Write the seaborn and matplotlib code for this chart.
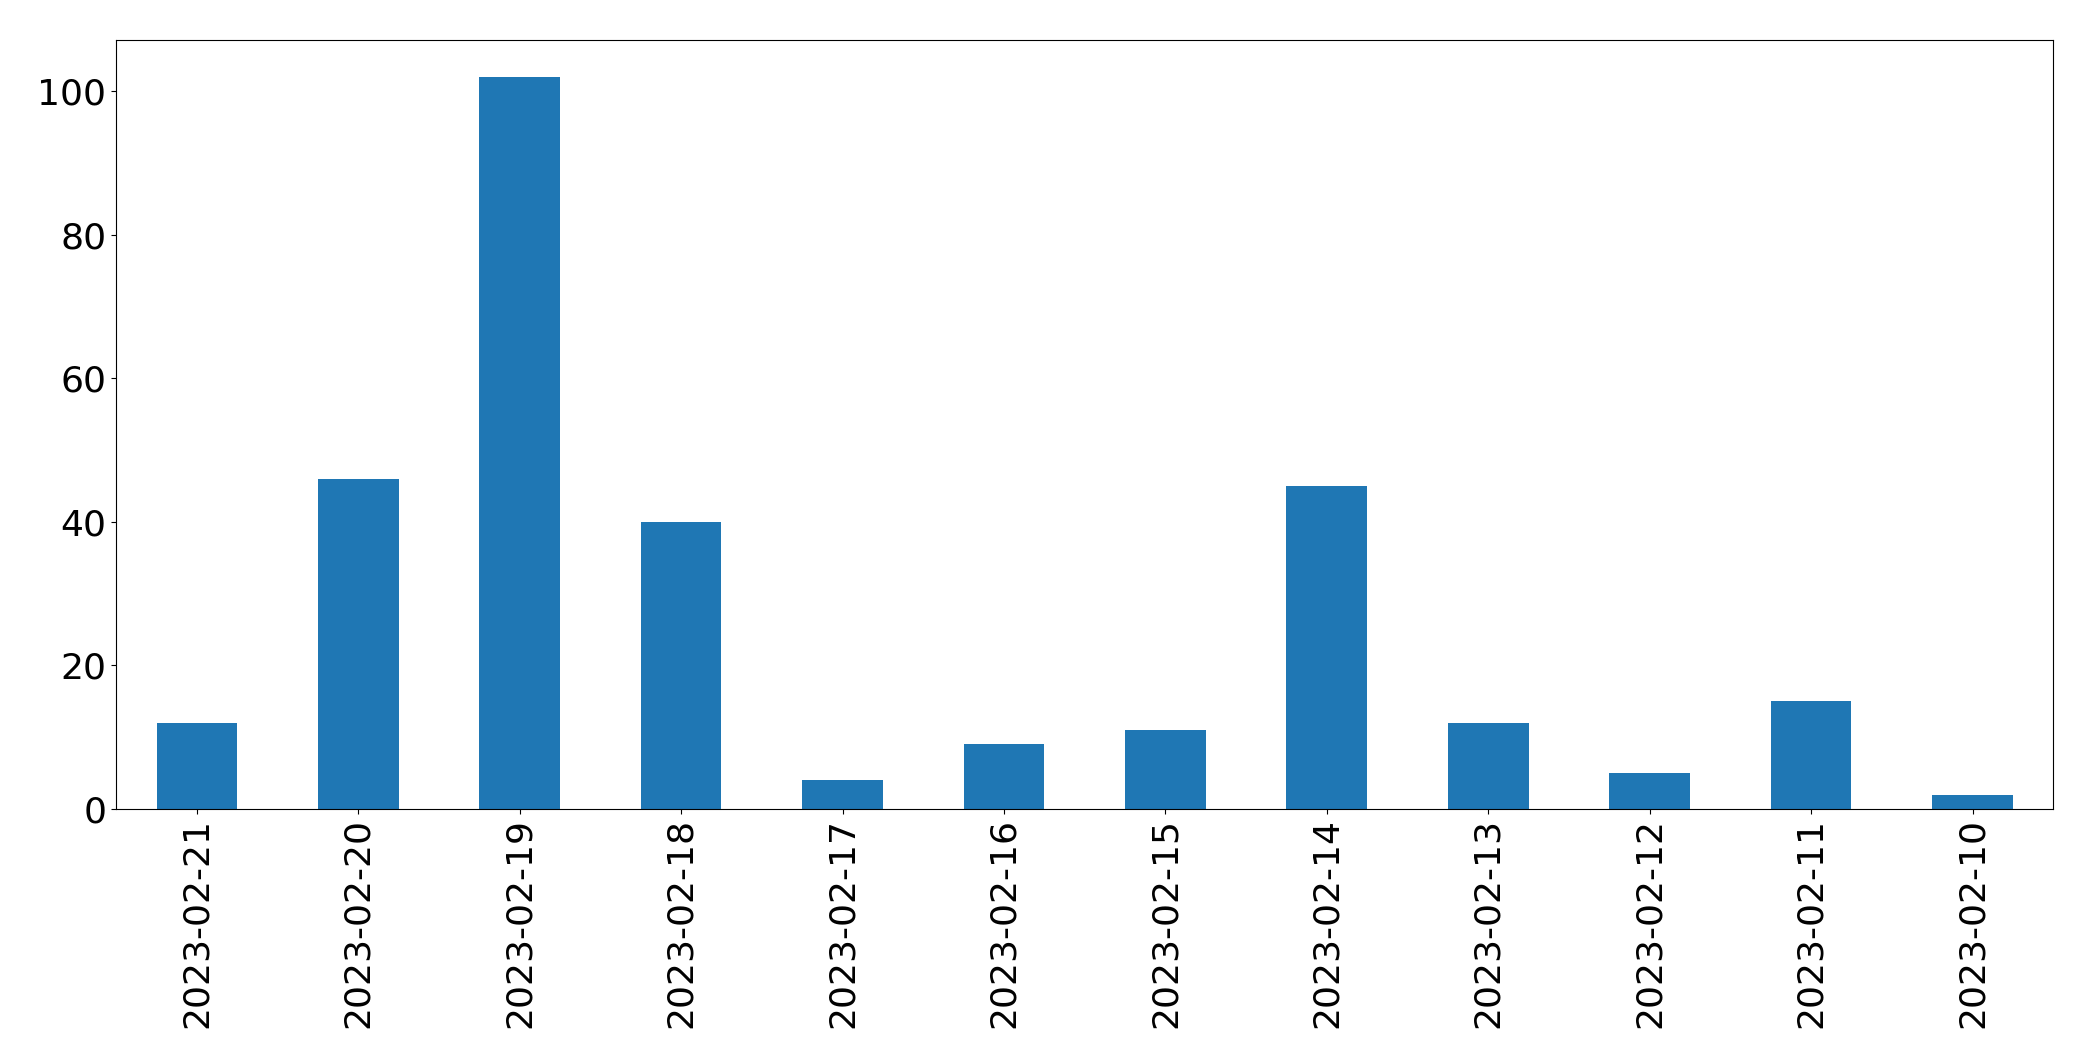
import pandas as pd
import matplotlib
matplotlib.use("Agg")
import matplotlib.pyplot as plt
import seaborn as sns

# tarixlər və saylar
dates = ["2023-02-21", "2023-02-20", "2023-02-19", "2023-02-18",
         "2023-02-17", "2023-02-16", "2023-02-15", "2023-02-14",
         "2023-02-13", "2023-02-12", "2023-02-11", "2023-02-10"]
counts = [12, 46, 102, 40, 4, 9, 11, 45, 12, 5, 15, 2]

data = pd.DataFrame({"date": dates, "count": counts})

fig, ax = plt.subplots(figsize=(20.93, 10.61), dpi=100)

sns.barplot(
    data=data,
    x="date",
    y="count",
    order=dates,
    color="#1f77b4",
    saturation=1,
    width=0.5,
    ax=ax
)

ax.set_xlabel("")
ax.set_ylabel("")
ax.set_xlim(-0.5, len(dates) - 0.5)
ax.tick_params(axis="both", labelsize=26)
ax.tick_params(axis="x", pad=3)
plt.xticks(rotation=90)

plt.subplots_adjust(left=0.0555, right=0.981, top=0.962, bottom=0.2375)
plt.savefig("out.png", dpi=100)
